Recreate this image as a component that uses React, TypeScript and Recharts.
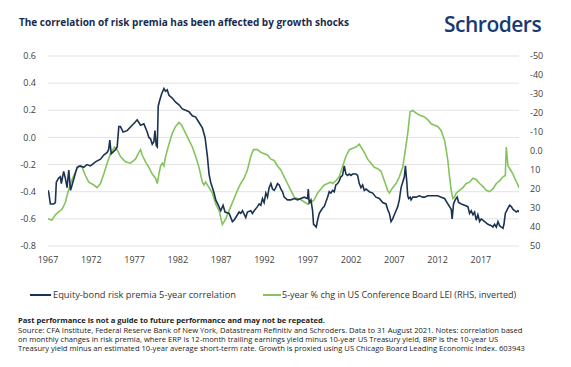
import React from "react";
import { LineChart, Line, XAxis, YAxis, CartesianGrid } from "recharts";

const corrDates = [1967.0,1967.1,1967.27,1967.66,1967.85,1967.96,1968.23,1968.43,1968.54,1968.81,1969.0,1969.2,1969.4,1969.6,1969.78,1970.05,1970.36,1970.74,1971.13,1971.5,1971.9,1972.48,1973.06,1973.44,1973.83,1974.0,1974.14,1974.3,1974.8,1974.99,1975.18,1975.37,1975.68,1976.14,1976.72,1977.11,1977.3,1977.69,1978.07,1978.46,1978.65,1978.84,1979.04,1979.23,1979.35,1979.5,1979.62,1979.73,1979.89,1980.12,1980.39,1980.58,1980.77,1980.97,1981.35,1981.74,1982.13,1982.51,1982.9,1983.28,1983.67,1984.06,1984.44,1984.83,1985.14,1985.41,1985.6,1985.79,1985.99,1986.18,1986.37,1986.68,1986.95,1987.22,1987.45,1987.92,1988.3,1988.49,1988.88,1989.07,1989.26,1989.46,1989.84,1990.03,1990.42,1990.61,1990.81,1991.19,1991.39,1991.58,1991.77,1991.96,1992.16,1992.35,1992.54,1992.74,1992.93,1993.12,1993.31,1993.51,1993.7,1993.89,1994.09,1994.28,1994.66,1995.05,1995.44,1995.82,1996.21,1996.59,1996.98,1997.06,1997.17,1997.37,1997.56,1997.67,1997.83,1997.98,1998.14,1998.33,1998.52,1998.72,1998.9,1999.29,1999.48,1999.67,1999.87,2000.06,2000.25,2000.45,2000.64,2000.83,2001.02,2001.22,2001.41,2001.6,2001.8,2001.99,2002.18,2002.57,2002.76,2002.95,2003.15,2003.34,2003.53,2003.73,2004.11,2004.5,2004.88,2005.27,2005.65,2006.04,2006.23,2006.43,2006.62,2006.81,2007.0,2007.2,2007.39,2007.58,2007.78,2007.97,2008.16,2008.28,2008.43,2008.55,2008.66,2008.82,2008.93,2009.13,2009.51,2009.9,2010.28,2010.48,2010.87,2011.25,2011.64,2012.02,2012.41,2012.8,2013.18,2013.57,2013.68,2013.84,2014.03,2014.26,2014.42,2014.73,2015.11,2015.5,2015.69,2015.88,2016.08,2016.27,2016.46,2016.65,2016.85,2017.04,2017.43,2017.81,2018.2,2018.39,2018.58,2018.78,2018.97,2019.16,2019.36,2019.55,2019.66,2019.82,2020.05,2020.32,2020.51,2020.71,2020.9,2021.09,2021.28,2021.4];
const corrValues = [-0.39,-0.41,-0.49,-0.49,-0.48,-0.33,-0.30,-0.29,-0.34,-0.25,-0.30,-0.37,-0.24,-0.39,-0.35,-0.29,-0.22,-0.21,-0.22,-0.20,-0.21,-0.18,-0.16,-0.13,-0.11,-0.09,-0.02,-0.12,-0.09,-0.07,0.08,0.08,0.04,0.05,0.09,0.115,0.13,0.09,0.10,0.04,0.00,-0.01,-0.05,-0.03,0.05,-0.06,-0.07,0.23,0.27,0.32,0.36,0.34,0.35,0.31,0.29,0.26,0.24,0.21,0.20,0.19,0.16,0.15,0.11,0.07,0.0,-0.14,-0.27,-0.33,-0.37,-0.41,-0.46,-0.50,-0.54,-0.50,-0.55,-0.56,-0.62,-0.61,-0.57,-0.55,-0.56,-0.54,-0.59,-0.55,-0.54,-0.56,-0.54,-0.51,-0.49,-0.50,-0.45,-0.48,-0.41,-0.44,-0.37,-0.34,-0.38,-0.39,-0.37,-0.34,-0.35,-0.38,-0.40,-0.44,-0.46,-0.46,-0.45,-0.46,-0.45,-0.44,-0.45,-0.38,-0.48,-0.46,-0.54,-0.64,-0.65,-0.66,-0.61,-0.56,-0.54,-0.52,-0.51,-0.44,-0.40,-0.41,-0.39,-0.40,-0.35,-0.34,-0.32,-0.29,-0.28,-0.21,-0.27,-0.28,-0.27,-0.28,-0.27,-0.27,-0.28,-0.34,-0.37,-0.35,-0.39,-0.38,-0.40,-0.41,-0.44,-0.45,-0.48,-0.49,-0.53,-0.56,-0.62,-0.60,-0.57,-0.54,-0.51,-0.46,-0.37,-0.33,-0.29,-0.21,-0.32,-0.43,-0.45,-0.44,-0.46,-0.44,-0.44,-0.43,-0.44,-0.44,-0.43,-0.43,-0.43,-0.43,-0.44,-0.45,-0.49,-0.53,-0.60,-0.49,-0.46,-0.44,-0.48,-0.49,-0.50,-0.51,-0.56,-0.54,-0.57,-0.55,-0.61,-0.57,-0.62,-0.60,-0.62,-0.64,-0.65,-0.66,-0.64,-0.66,-0.62,-0.65,-0.66,-0.67,-0.64,-0.56,-0.53,-0.50,-0.51,-0.53,-0.54,-0.55,-0.54,-0.55];

const leiDates = [1967.0,1967.46,1967.85,1968.23,1968.62,1969.0,1969.28,1969.6,1969.97,1970.36,1970.55,1970.94,1971.32,1971.71,1972.29,1972.67,1973.06,1973.44,1973.83,1974.21,1974.68,1974.99,1975.37,1975.95,1976.53,1977.1,1977.5,1977.69,1977.88,1978.26,1978.65,1979.04,1979.42,1979.62,1979.81,1980.0,1980.2,1980.39,1980.58,1980.97,1981.35,1981.74,1982.13,1982.44,1982.9,1983.28,1983.67,1984.06,1984.44,1984.83,1985.02,1985.21,1985.6,1985.99,1986.37,1986.76,1987.14,1987.53,1988.1,1988.49,1988.88,1989.26,1989.65,1990.03,1990.42,1990.73,1991.19,1991.58,1991.96,1992.35,1992.74,1993.12,1993.51,1993.89,1994.28,1994.66,1995.05,1995.44,1996.21,1996.98,1997.37,1997.75,1998.14,1998.52,1998.91,1999.29,1999.6,1999.87,2000.25,2000.64,2001.0,2001.4,2001.8,2002.2,2002.57,2002.95,2003.15,2003.53,2003.92,2004.3,2004.69,2005.08,2005.46,2005.85,2006.23,2006.43,2006.81,2007.2,2007.58,2007.97,2008.28,2008.55,2008.82,2009.13,2009.51,2009.9,2010.48,2010.87,2011.25,2011.64,2012.02,2012.41,2012.8,2012.99,2013.18,2013.38,2013.57,2013.76,2013.95,2014.15,2014.53,2014.92,2015.3,2015.69,2016.08,2016.46,2016.85,2017.23,2017.62,2018.0,2018.39,2018.78,2019.16,2019.55,2019.82,2019.93,2020.13,2020.43,2020.7,2020.9,2021.28,2021.4];
const leiValues = [35.7,36.4,33.6,32.1,30.7,27.1,22.1,17.1,12.9,9.3,7.9,8.6,12.9,16.4,17.9,19.3,17.1,12.1,6.4,1.4,-2.1,-0.7,2.9,5.7,6.4,4.3,0.7,-0.7,2.1,5.7,8.6,12.1,14.3,17.1,12.1,7.9,6.4,7.9,2.9,-3.6,-9.3,-12.9,-15.0,-13.6,-9.3,-5.7,-2.1,2.9,8.6,16.4,17.9,16.4,19.3,22.1,27.9,31.4,38.6,35.7,29.3,25.0,20.7,17.1,14.3,10.0,2.9,-0.7,-0.7,0.7,1.4,2.1,4.3,5.0,7.9,10.0,13.6,17.1,20.7,24.3,25.7,27.9,27.1,25.7,22.1,20.0,17.9,17.1,16.4,17.1,15.7,13.6,8.6,2.9,-0.7,-1.4,-2.1,-3.6,-2.1,0.7,4.3,6.4,8.6,9.3,10.7,15.7,20.7,22.1,19.3,17.1,13.6,8.6,-0.7,-9.3,-20.7,-21.4,-20.0,-18.9,-17.9,-16.4,-14.3,-13.6,-12.9,-10.7,-5.7,-0.7,5.0,13.6,20.7,25.0,24.3,22.1,20.7,19.3,17.1,16.4,14.3,15.0,17.1,18.6,20.7,21.4,20.0,17.1,15.7,13.6,12.9,-2.1,7.9,10.0,12.1,14.3,17.9,19.3];

const xTicks = [1967, 1972, 1977, 1982, 1987, 1992, 1997, 2002, 2007, 2012, 2017];
const leftTicks = [-0.8, -0.6, -0.4, -0.2, 0, 0.2, 0.4, 0.6];
const rightTicks = [-50, -40, -30, -20, -10, 0, 10, 20, 30, 40, 50];

const corrData = corrDates.map((d, i) => ({ date: d, corr: corrValues[i] }));
const leiData = leiDates.map((d, i) => ({ date: d, lei: leiValues[i] }));

const DARK = "#1b3350";
const GREEN = "#84c45c";
const FONT = "'Open Sans', 'DejaVu Sans', sans-serif";
const tickStyle = { fontSize: 9, fill: "#404040", fontFamily: FONT };

export default function App() {
  return (
    <div style={{ position: "absolute", left: 0, top: 0, width: 571, height: 367, background: "#fff", fontFamily: FONT, overflow: "hidden" }}>
      <div style={{ position: "absolute", left: 19, top: 15, fontSize: 10, lineHeight: "14px", fontWeight: 700, color: "#1a2c4e", whiteSpace: "nowrap" }}>
        The correlation of risk premia has been affected by growth shocks
      </div>
      <div style={{ position: "absolute", left: 444, top: 10, fontSize: 21, lineHeight: "28px", fontWeight: 600, letterSpacing: "-0.5px", color: "#173a72", whiteSpace: "nowrap" }}>
        Schroders
      </div>
      <div style={{ position: "absolute", left: 0, top: 0 }}>
        <LineChart width={571} height={276} margin={{ top: 56, right: 0, bottom: 0, left: 0 }}>
          <CartesianGrid yAxisId="left" vertical={false} stroke="#e3e3e3" strokeWidth={1} />
          <XAxis dataKey="date" type="number" domain={[1967, 2021.4]} ticks={xTicks} allowDataOverflow axisLine={false} tickLine={false} tick={tickStyle} tickMargin={5} height={30} interval={0} />
          <YAxis yAxisId="left" orientation="left" domain={[-0.8, 0.6]} ticks={leftTicks} width={48} axisLine={false} tickLine={false} tick={tickStyle} tickMargin={6} tickFormatter={(v: number) => v.toFixed(1)} />
          <YAxis yAxisId="right" orientation="right" domain={[-50, 50]} reversed ticks={rightTicks} width={52} axisLine={false} tickLine={false} tick={{ ...tickStyle, textAnchor: "start" }} tickMargin={5} tickFormatter={(v: number) => (v === 0 ? "0.0" : String(v))} />
          <Line yAxisId="right" data={leiData} dataKey="lei" type="linear" stroke={GREEN} strokeWidth={1.6} dot={false} isAnimationActive={false} />
          <Line yAxisId="left" data={corrData} dataKey="corr" type="linear" stroke={DARK} strokeWidth={1.6} dot={false} isAnimationActive={false} />
        </LineChart>
      </div>
      <div style={{ position: "absolute", left: 30, top: 294, width: 21, height: 1.6, background: DARK }} />
      <div style={{ position: "absolute", left: 53, top: 288, fontSize: 9.3, lineHeight: "13px", color: "#333", whiteSpace: "nowrap" }}>Equity-bond risk premia 5-year correlation</div>
      <div style={{ position: "absolute", left: 263, top: 294, width: 18, height: 1.6, background: GREEN }} />
      <div style={{ position: "absolute", left: 282, top: 288, fontSize: 9, lineHeight: "13px", color: "#333", whiteSpace: "nowrap" }}>5-year % chg in US Conference Board LEI (RHS, inverted)</div>
      <div style={{ position: "absolute", left: 18, top: 316, fontSize: 7.6, lineHeight: "9.2px", color: "#222", whiteSpace: "nowrap" }}>
        <div style={{ fontWeight: 700, marginBottom: 0.6 }}>Past performance is not a guide to future performance and may not be repeated.</div>
        <div>Source: CFA Institute, Federal Reserve Bank of New York, Datastream Refinitiv and Schroders. Data to 31 August 2021. Notes: correlation based</div>
        <div>on monthly changes in risk premia, where ERP is 12-month trailing earnings yield minus 10-year US Treasury yield, BRP is the 10-year US</div>
        <div>Treasury yield minus an estimated 10-year average short-term rate. Growth is proxied using US Chicago Board Leading Economic Index. 603943</div>
      </div>
    </div>
  );
}
